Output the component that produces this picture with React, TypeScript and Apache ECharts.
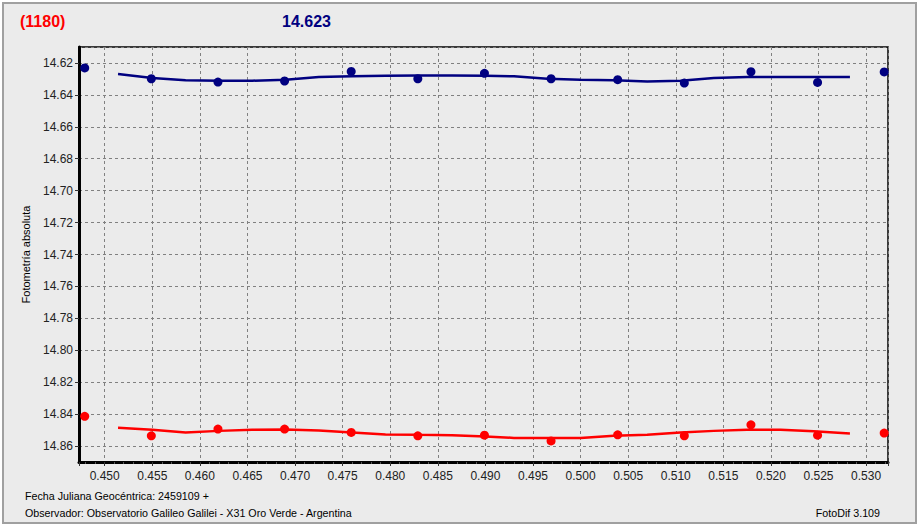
import React, { useEffect, useRef } from "react";
import * as echarts from "echarts";

// Observations (x = fraction of JD, y = absolute magnitude)
const obsX = [0.4479, 0.4549, 0.4619, 0.4689, 0.4759, 0.4829, 0.4899, 0.4969, 0.5039, 0.5109, 0.5179, 0.5249, 0.5319];
const blueMag = [14.6231, 14.6299, 14.632, 14.6313, 14.6253, 14.6299, 14.6265, 14.6299, 14.6305, 14.6326, 14.6255, 14.6322, 14.6256];
const redMag = [14.8414, 14.8536, 14.8494, 14.8494, 14.8515, 14.8536, 14.8532, 14.8568, 14.853, 14.8536, 14.8467, 14.8532, 14.8519];

// Fitted curves
const fitX = [0.4514, 0.455, 0.4585, 0.462, 0.4655, 0.469, 0.4725, 0.476, 0.4795, 0.483, 0.4865, 0.49, 0.493, 0.4965, 0.5, 0.5035, 0.507, 0.5105, 0.514, 0.5175, 0.521, 0.5245, 0.5283];
const blueFit = [14.6269, 14.6294, 14.6309, 14.6311, 14.6311, 14.6305, 14.6288, 14.6284, 14.628, 14.6278, 14.6278, 14.628, 14.6284, 14.6299, 14.6305, 14.6309, 14.6316, 14.6311, 14.6294, 14.6288, 14.6288, 14.6288, 14.6288];
const redFit = [14.8486, 14.8498, 14.8515, 14.8505, 14.8498, 14.8496, 14.8502, 14.8515, 14.8527, 14.853, 14.8532, 14.854, 14.8549, 14.8549, 14.8549, 14.8536, 14.853, 14.8515, 14.8505, 14.8498, 14.8498, 14.8508, 14.8521];

const headerLeft = "(1180)";
const headerMag = "14.623";
const yName = "Fotometría absoluta";
const footer1 = "Fecha Juliana Geocéntrica: 2459109 +";
const footer2 = "Observador: Observatorio Galileo Galilei - X31 Oro Verde - Argentina";
const footerRight = "FotoDif 3.109";

const BLUE = "#000080";
const RED = "#ff0000";
const FONT = "Liberation Sans, Arial, sans-serif";

export default function App() {
  const ref = useRef<HTMLDivElement>(null);
  useEffect(() => {
    const chart = echarts.init(ref.current!, undefined, { renderer: "svg" });
    const pairs = (xs: number[], ys: number[]) => xs.map((x, i) => [x, ys[i]]);
    chart.setOption({
      animation: false,
      backgroundColor: "#ffffff",
      graphic: [
        {
          type: "rect",
          z: -10,
          silent: true,
          shape: { x: 3, y: 3, width: 913, height: 520 },
          style: { fill: "#ebebeb", stroke: "#a0a0a0", lineWidth: 2 },
        },
        {
          type: "text",
          left: 20,
          top: 13,
          style: { text: headerLeft, fill: RED, font: `bold 16px ${FONT}` },
        },
        {
          type: "text",
          left: 282,
          top: 13,
          style: { text: headerMag, fill: BLUE, font: `bold 16px ${FONT}` },
        },
        {
          type: "text",
          left: 25,
          top: 490,
          style: { text: footer1, fill: "#000", font: `10.7px ${FONT}` },
        },
        {
          type: "text",
          left: 25,
          top: 507,
          style: { text: footer2, fill: "#000", font: `10.7px ${FONT}` },
        },
        {
          type: "text",
          right: 39,
          top: 507,
          style: { text: footerRight, fill: "#000", font: `10.7px ${FONT}` },
        },
      ],
      grid: {
        left: 79,
        right: 31,
        top: 47,
        bottom: 66,
        show: true,
        backgroundColor: "transparent",
        borderColor: "#000",
        borderWidth: 1.5,
      },
      xAxis: {
        type: "value",
        min: 0.4473,
        max: 0.5323,
        splitNumber: 17,
        axisLine: { show: true, onZero: false, lineStyle: { color: "#000", width: 3 } },
        axisTick: { show: true, length: 4, lineStyle: { color: "#333" } },
        minorTick: { show: true, splitNumber: 5, length: 2, lineStyle: { color: "#555" } },
        axisLabel: {
          color: "#222",
          fontFamily: FONT,
          fontSize: 12,
          margin: 8,
          showMinLabel: false,
          showMaxLabel: false,
          formatter: (v: number) => v.toFixed(3),
        },
        splitLine: { show: true, lineStyle: { color: "#808080", type: [3, 3], width: 1 } },
      },
      yAxis: {
        type: "value",
        inverse: true,
        min: 14.61,
        max: 14.87,
        splitNumber: 13,
        name: yName,
        nameLocation: "middle",
        nameRotate: 90,
        nameGap: 48,
        nameTextStyle: { color: "#000", fontFamily: FONT, fontSize: 11 },
        axisLine: { show: true, onZero: false, lineStyle: { color: "#000", width: 3 } },
        axisTick: { show: true, length: 4, lineStyle: { color: "#333" } },
        axisLabel: {
          color: "#222",
          fontFamily: FONT,
          fontSize: 12,
          margin: 6,
          showMinLabel: false,
          showMaxLabel: false,
          formatter: (v: number) => v.toFixed(2),
        },
        splitLine: { show: true, lineStyle: { color: "#808080", type: [3, 3], width: 1 } },
      },
      series: [
        {
          type: "line",
          data: pairs(fitX, blueFit),
          showSymbol: false,
          symbol: "none",
          lineStyle: { color: BLUE, width: 2.5 },
          z: 2,
        },
        {
          type: "line",
          data: pairs(fitX, redFit),
          showSymbol: false,
          symbol: "none",
          lineStyle: { color: RED, width: 2.5 },
          z: 2,
        },
        {
          type: "scatter",
          data: pairs(obsX, blueMag),
          symbol: "circle",
          symbolSize: 9,
          itemStyle: { color: BLUE, opacity: 1 },
          z: 3,
        },
        {
          type: "scatter",
          data: pairs(obsX, redMag),
          symbol: "circle",
          symbolSize: 9,
          itemStyle: { color: RED, opacity: 1 },
          z: 3,
        },
      ],
    });
    return () => chart.dispose();
  }, []);
  return (
    <div
      ref={ref}
      style={{ position: "absolute", left: 0, top: 0, width: 919, height: 528 }}
    />
  );
}
